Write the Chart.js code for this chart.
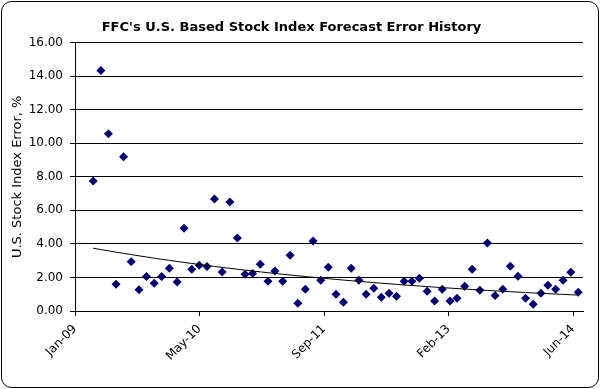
<!DOCTYPE html>
<html><head><meta charset="utf-8">
<script src="https://cdn.jsdelivr.net/npm/chart.js@4/dist/chart.umd.min.js"></script>
<style>html,body{margin:0;padding:0;background:#fff}canvas{display:block}</style>
</head><body>
<canvas id="c" width="601" height="389"></canvas>
<script>
const chartTitle = "FFC's U.S. Based Stock Index Forecast Error History";
const yAxisTitle = "U.S. Stock Index Error, %";

const months = [
  '2009-03','2009-04','2009-05','2009-06','2009-07','2009-08','2009-09','2009-10','2009-11','2009-12',
  '2010-01','2010-02','2010-03','2010-04','2010-05','2010-06','2010-07','2010-08','2010-09','2010-10','2010-11','2010-12',
  '2011-01','2011-02','2011-03','2011-04','2011-05','2011-06','2011-07','2011-08','2011-09','2011-10','2011-11','2011-12',
  '2012-01','2012-02','2012-03','2012-04','2012-05','2012-06','2012-07','2012-08','2012-09','2012-10','2012-11','2012-12',
  '2013-01','2013-02','2013-03','2013-04','2013-05','2013-06','2013-07','2013-08','2013-09','2013-10','2013-11','2013-12',
  '2014-01','2014-02','2014-03','2014-04','2014-05','2014-06','2014-07'
];
const errors = [
  7.75,14.33,10.56,1.60,9.20,2.93,1.26,2.05,1.65,2.05,
  2.55,1.73,4.94,2.49,2.73,2.65,6.67,2.33,6.50,4.35,2.19,2.23,
  2.79,1.78,2.39,1.78,3.33,0.46,1.30,4.17,1.83,2.61,1.00,0.52,
  2.55,1.83,1.00,1.36,0.82,1.06,0.88,1.78,1.78,1.95,1.18,0.60,
  1.30,0.60,0.76,1.48,2.49,1.24,4.05,0.92,1.30,2.67,2.07,0.76,
  0.40,1.06,1.54,1.30,1.83,2.31,1.12
];
const axisStart = '2009-01-01';
const axisSpanDays = 2040;
const xTickDays = [0, 500, 1000, 1500, 2000];
const yMin = 0, yMax = 16, yStep = 2;
const monthNames = ['Jan','Feb','Mar','Apr','May','Jun','Jul','Aug','Sep','Oct','Nov','Dec'];

const DAY = 86400000;
const t0 = Date.parse(axisStart + 'T00:00:00Z');
const dayOffset = ym => (Date.parse(ym + '-15T00:00:00Z') - t0) / DAY;
const xs = months.map(dayOffset);
const points = xs.map((x, i) => ({x: x, y: errors[i]}));

// Exponential least-squares trend (fit of ln y on x), as Excel's exponential trendline
const n = xs.length;
const ly = errors.map(v => Math.log(v));
const mx = xs.reduce((s, v) => s + v, 0) / n;
const my = ly.reduce((s, v) => s + v, 0) / n;
let sxy = 0, sxx = 0;
for (let i = 0; i < n; i++) { sxy += (xs[i] - mx) * (ly[i] - my); sxx += (xs[i] - mx) ** 2; }
const tb = sxy / sxx, ta = my - tb * mx;
const trend = xs.map(x => ({x: x, y: Math.exp(ta + tb * x)}));

const fmtDate = v => {
  const d = new Date(t0 + v * DAY);
  return monthNames[d.getUTCMonth()] + '-' + String(d.getUTCFullYear()).slice(2);
};

const FONT = "'DejaVu Sans', Verdana, sans-serif";

const frame = {
  id: 'frame',
  beforeDraw(chart) {
    const c = chart.ctx;
    c.save(); c.fillStyle = '#fff'; c.fillRect(0, 0, chart.width, chart.height); c.restore();
  },
  afterDraw(chart) {
    const c = chart.ctx;
    c.save();
    c.strokeStyle = '#000'; c.lineWidth = 1;
    c.beginPath();
    c.roundRect(1.5, 1.5, 597, 386, 10);
    c.stroke();
    c.restore();
  }
};

new Chart(document.getElementById('c'), {
  type: 'scatter',
  data: {
    datasets: [
      {
        label: 'Trend',
        type: 'line',
        data: trend,
        borderColor: '#000',
        borderWidth: 1,
        pointRadius: 0,
        fill: false,
        tension: 0
      },
      {
        label: 'Forecast error',
        data: points,
        pointStyle: 'rectRot',
        pointRadius: 4.5,
        pointHoverRadius: 4.5,
        backgroundColor: '#000070',
        borderColor: '#000070',
        borderWidth: 0
      }
    ]
  },
  options: {
    responsive: false,
    devicePixelRatio: 1,
    animation: false,
    layout: {padding: {left: 0, right: 18, top: 0, bottom: 0}},
    plugins: {
      legend: {display: false},
      tooltip: {enabled: false},
      title: {
        display: true,
        text: chartTitle,
        color: '#000',
        font: {family: FONT, size: 13, weight: 'bold', lineHeight: 1.2},
        padding: {top: 20, bottom: 7}
      }
    },
    scales: {
      x: {
        type: 'linear',
        min: 0,
        max: axisSpanDays,
        afterFit(s) { s.height = 78; },
        afterBuildTicks(s) { s.ticks = xTickDays.map(v => ({value: v})); },
        ticks: {
          autoSkip: false,
          maxRotation: 45,
          minRotation: 45,
          padding: 6,
          color: '#000',
          font: {family: FONT, size: 12},
          callback: v => fmtDate(v)
        },
        grid: {drawOnChartArea: false, drawTicks: true, tickLength: 5, color: '#000', lineWidth: 1},
        border: {color: '#000', width: 1}
      },
      y: {
        min: yMin,
        max: yMax,
        afterFit(s) { s.width = 75; },
        ticks: {
          stepSize: yStep,
          padding: 7,
          color: '#000',
          font: {family: FONT, size: 12},
          callback: v => v.toFixed(2)
        },
        grid: {color: '#000', lineWidth: 1, drawTicks: true, tickLength: 5},
        border: {color: '#000', width: 1},
        title: {
          display: true,
          text: yAxisTitle,
          color: '#000',
          font: {family: FONT, size: 13},
          padding: {top: 10, bottom: 0}
        }
      }
    }
  },
  plugins: [frame]
});
</script>
</body></html>
